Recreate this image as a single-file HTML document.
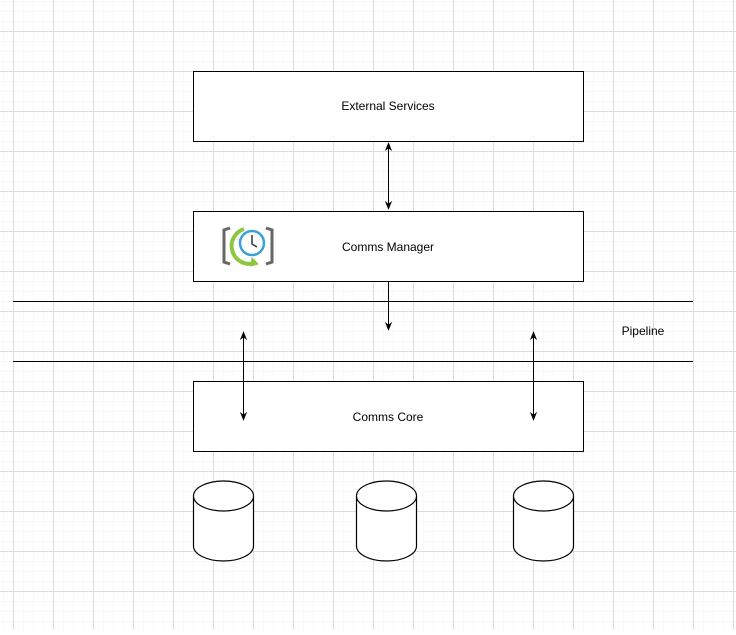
<!DOCTYPE html>
<html><head><style>
body{margin:0;width:736px;height:630px;overflow:hidden;background:#fff;}
svg text{font-family:"Liberation Sans",sans-serif;font-size:12px;}
</style></head><body>
<svg width="736" height="630" xmlns="http://www.w3.org/2000/svg">
<defs>
<pattern id="minor" width="10" height="10" patternUnits="userSpaceOnUse" x="3" y="1">
<path d="M0 0H10M0 0V10" stroke="#f3f3f3" stroke-width="1" fill="none"/>
</pattern>
<pattern id="major" width="40" height="40" patternUnits="userSpaceOnUse" x="13" y="31">
<path d="M0 0.5H40M0.5 0V40" stroke="#dcdcdc" stroke-width="1" fill="none"/>
</pattern>
<marker id="ah" viewBox="0 0 10 10" refX="9" refY="5" markerWidth="9" markerHeight="9" orient="auto-start-reverse">
<path d="M0 1L10 5L0 9L3 5Z" fill="#000"/>
</marker>
</defs>
<rect width="736" height="630" fill="url(#minor)"/>
<rect width="736" height="630" fill="url(#major)"/>
<g stroke="#000" stroke-width="1" fill="#fff">
<rect x="193.5" y="71.5" width="390" height="70"/>
<rect x="193.5" y="211.5" width="390" height="70"/>
<rect x="193.5" y="381.5" width="390" height="70"/>
</g>
<line x1="13" y1="301.5" x2="693" y2="301.5" stroke="#000"/>
<line x1="13" y1="361.5" x2="693" y2="361.5" stroke="#000"/>
<g stroke="#000" stroke-width="1" fill="none">
<line x1="388.5" y1="143" x2="388.5" y2="209" marker-start="url(#ah)" marker-end="url(#ah)"/>
<line x1="388.5" y1="282" x2="388.5" y2="330" marker-end="url(#ah)"/>
<line x1="243.5" y1="332" x2="243.5" y2="420" marker-start="url(#ah)" marker-end="url(#ah)"/>
<line x1="533.5" y1="332" x2="533.5" y2="420" marker-start="url(#ah)" marker-end="url(#ah)"/>
</g>
<text x="388" y="110" text-anchor="middle">External Services</text>
<text x="388" y="251" text-anchor="middle">Comms Manager</text>
<text x="388" y="421" text-anchor="middle">Comms Core</text>
<text x="643" y="335" text-anchor="middle">Pipeline</text>
<g fill="none">
<path d="M230 228 L224 230 L224 262 L230 264" stroke="#666" stroke-width="3"/>
<path d="M266 228 L272 230 L272 262 L266 264" stroke="#666" stroke-width="3"/>
<path d="M244 229 A16 16 0 1 0 255 263" stroke="#8dc63f" stroke-width="4"/>
<path d="M252 258 L258 264 L251 266Z" fill="#8dc63f" stroke="#8dc63f"/>
<circle cx="252" cy="243" r="12" stroke="#3aa0d8" stroke-width="2.5" fill="#fff"/>
<path d="M252 235 V244 L257 247" stroke="#333" stroke-width="1.5"/>
</g>
<g stroke="#000" stroke-width="1.2" fill="#fff">
<path d="M193.5 496 V546 A30 15 0 0 0 253.5 546 V496"/>
<ellipse cx="223.5" cy="496" rx="30" ry="15"/>
<path d="M356.5 496 V546 A30 15 0 0 0 416.5 546 V496"/>
<ellipse cx="386.5" cy="496" rx="30" ry="15"/>
<path d="M513.5 496 V546 A30 15 0 0 0 573.5 546 V496"/>
<ellipse cx="543.5" cy="496" rx="30" ry="15"/>
</g>
</svg>
</body></html>
